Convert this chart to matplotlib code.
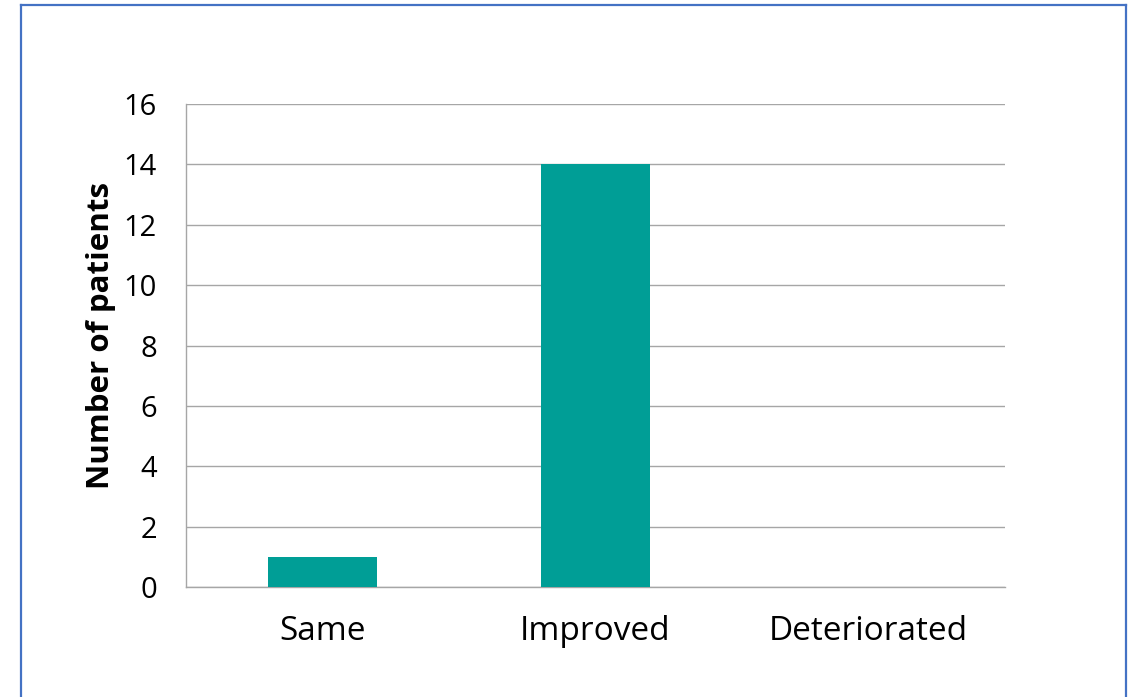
import matplotlib
matplotlib.use("Agg")
import matplotlib.pyplot as plt
from matplotlib.lines import Line2D

categories = ["Same", "Improved", "Deteriorated"]
patients = [1, 14, 0]
y_ticks = [0, 2, 4, 6, 8, 10, 12, 14, 16]

bar_color = "#009E96"
grid_color = "#A6A6A6"
frame_color = "#4472C4"
font = ["Open Sans", "DejaVu Sans"]

fig = plt.figure(figsize=(11.28, 6.97), dpi=100)
ax = fig.add_axes([0.1649, 0.1578, 0.7261, 0.693])

x = range(len(categories))
ax.bar(x, patients, width=0.4, color=bar_color, zorder=3)

ax.set_xlim(-0.5, len(categories) - 0.5)
ax.set_ylim(0, 16)
ax.set_yticks(y_ticks)
ax.set_yticklabels([str(v) for v in y_ticks], fontsize=21, family=font)
ax.set_xticks(list(x))
ax.set_xticklabels(categories, fontsize=24, family=font)
ax.tick_params(axis="both", length=0, colors="black")
ax.tick_params(axis="y", pad=21)
ax.tick_params(axis="x", pad=20)

ax.yaxis.grid(True, color=grid_color, linewidth=1, zorder=0)
for side in ["top", "right"]:
    ax.spines[side].set_visible(False)
for side in ["left", "bottom"]:
    ax.spines[side].set_color(grid_color)
    ax.spines[side].set_linewidth(1)

ax.set_ylabel("Number of patients", fontsize=22.5, fontweight="bold",
              family=font)
ax.yaxis.set_label_coords(-0.085, 0.52)

# open frame around the chart area
x0, x1, ytop = 21 / 1128, 1126 / 1128, 1 - 5 / 697
for xs, ys in [([x0, x0], [0, ytop]), ([x0, x1], [ytop, ytop]), ([x1, x1], [ytop, 0])]:
    fig.add_artist(Line2D(xs, ys, transform=fig.transFigure,
                          color=frame_color, linewidth=1.6))

fig.savefig("out.png", dpi=100)
